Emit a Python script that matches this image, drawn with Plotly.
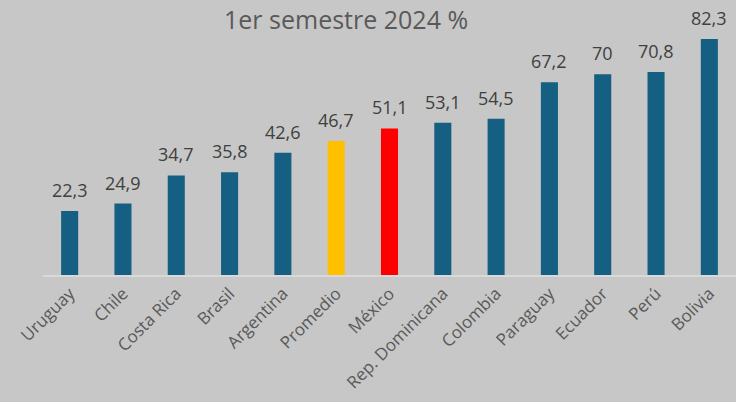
import plotly.graph_objects as go

countries = ["Uruguay", "Chile", "Costa Rica", "Brasil", "Argentina", "Promedio", "México",
             "Rep. Dominicana", "Colombia", "Paraguay", "Ecuador", "Perú", "Bolivia"]
values = [22.3, 24.9, 34.7, 35.8, 42.6, 46.7, 51.1, 53.1, 54.5, 67.2, 70, 70.8, 82.3]
labels = ["22,3", "24,9", "34,7", "35,8", "42,6", "46,7", "51,1", "53,1", "54,5", "67,2", "70", "70,8", "82,3"]
title_text = "1er semestre 2024 %"

BLUE = "#156082"
color_map = {"Promedio": "#FFC000", "México": "#FF0000"}
colors = [color_map.get(c, BLUE) for c in countries]

FONT = "Open Sans"

fig = go.Figure(go.Bar(x=countries, y=values, marker=dict(color=colors, line=dict(width=0)),
                       hoverinfo="skip"))

for c, v, t in zip(countries, values, labels):
    fig.add_annotation(x=c, y=v, text=t, showarrow=False, yanchor="bottom", yshift=7,
                       font=dict(family=FONT, size=18, color="#404040"))

fig.add_annotation(xref="paper", yref="paper", x=(346 - 43) / 693, y=1, yshift=20,
                   text=title_text, showarrow=False, xanchor="center", yanchor="top",
                   font=dict(family=FONT, size=25, color="#595959"))

fig.update_layout(
    width=736, height=402,
    margin=dict(l=43, r=0, t=20, b=127),
    paper_bgcolor="#C7C7C7", plot_bgcolor="#C7C7C7",
    bargap=0.68, showlegend=False,
    xaxis=dict(showline=True, linecolor="#D9D9D9", linewidth=2, tickangle=-45,
               tickfont=dict(family=FONT, size=17, color="#595959"), showgrid=False,
               ticks="", fixedrange=True),
    yaxis=dict(range=[0, 88.9], visible=False, showgrid=False, fixedrange=True),
)

fig.write_html("out.html", post_script="document.body.style.margin='0';document.body.style.background='#C7C7C7';",
               config={"displayModeBar": False})
